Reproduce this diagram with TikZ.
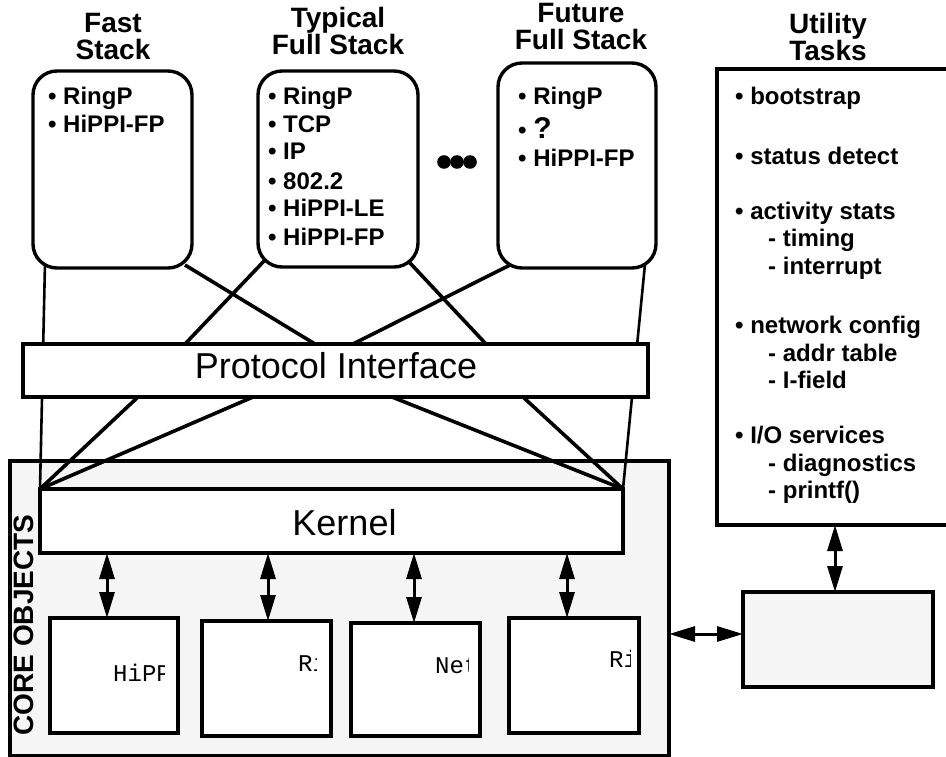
\documentclass[tikz,border=0pt]{standalone}
\usepackage{fontspec}
\setmainfont{Liberation Sans}
\newfontfamily\objfont{Liberation Mono}
\usetikzlibrary{arrows.meta,calc}
\definecolor{corefill}{RGB}{245,245,245}

\begin{document}
\begin{tikzpicture}[x=1pt,y=-1pt,
  box/.style={draw, line width=3.4pt, inner sep=0pt, outer sep=0pt, anchor=north west},
  frame/.style={minimum width=#1, inner sep=0pt, outer sep=0pt, anchor=north west},
  outline/.style={line width=3.4pt, fill=white},
  title/.style={font=\fontsize{28}{27.5}\selectfont\bfseries, align=center, anchor=north, inner sep=0pt},
  item/.style={font=\fontsize{24}{28}\selectfont\bfseries, anchor=base west, inner sep=0pt},
  bigtext/.style={font=\fontsize{36}{36}\selectfont, anchor=base, inner sep=0pt},
  objtext/.style={font=\objfont\fontsize{24}{24}\selectfont, anchor=base west, inner sep=0pt},
  link/.style={line width=3.6pt},
  thinlink/.style={line width=2.6pt},
  dbl/.style={line width=3pt, {Triangle[length=26pt,width=15pt]}-{Triangle[length=26pt,width=15pt]}}
]
\useasboundingbox (0,0) rectangle (946,757);
\clip (0,0) rectangle (946,757);

% --- core objects area ---
\node[box, fill=corefill, minimum width=659pt, minimum height=295pt] (core) at (10,461) {};
\node[font=\fontsize{28}{28}\selectfont\bfseries, rotate=90, anchor=base, inner sep=0pt] (corelabel) at (33,625) {CORE OBJECTS};

% --- protocol stacks (frames; outlines are drawn after the links) ---
\node[frame=159pt, minimum height=197pt] (fast) at (33,71) {};
\node[frame=160pt, minimum height=196pt] (typical) at (258,71) {};
\node[frame=158pt, minimum height=205pt] (future) at (498,63) {};

% interface and kernel frames
\node[frame=625pt, minimum height=53pt] (pi) at (23,344) {};
\node[frame=583pt, minimum height=64pt] (kernel) at (40,489) {};

% --- links between stacks, interface and kernel ---
\draw[thinlink] ([shift={(12,-5)}]fast.south west) -- (kernel.north west);
\draw[link] ([shift={(-7,-3)}]fast.south east) -- ([xshift=-20.5pt]pi.north);
\draw[link] ([shift={(7,-7)}]typical.south west) -- ([xshift=-150.5pt]pi.north);
\draw[link] ([shift={(-8,-4)}]typical.south east) -- ([xshift=150.5pt]pi.north);
\draw[link] ([shift={(12,-3)}]future.south west) -- ([xshift=17.5pt]pi.north);
\draw[thinlink] ([shift={(-11,-4)}]future.south east) -- (kernel.north east);
\draw[link] ([xshift=-197.5pt]pi.south) -- (kernel.north west);
\draw[link] ([xshift=-82.5pt]pi.south) -- (kernel.north west);
\draw[link] ([xshift=56.5pt]pi.south) -- (kernel.north east);
\draw[link] ([xshift=187.5pt]pi.south) -- (kernel.north east);

% stack boxes, interface and kernel drawn over the link ends
\draw[outline, rounded corners=24pt] (fast.north west) rectangle (fast.south east);
\draw[outline, rounded corners=24pt] (typical.north west) rectangle (typical.south east);
\draw[outline, rounded corners=24pt] (future.north west) rectangle (future.south east);
\draw[outline] (pi.north west) rectangle (pi.south east);
\draw[outline] (kernel.north west) rectangle (kernel.south east);
\node[bigtext] (pitext) at (336,378) {Protocol Interface};
\node[bigtext] (ktext) at (344.5,535) {Kernel};

% --- stack titles ---
\node[title] (fastT) at (113,13) {Fast\\Stack};
\node[title] (typicalT) at (338,7) {Typical\\Full Stack};
\node[title] (futureT) at (581,3) {Future\\Full Stack};
\node[title] (utilT) at (828,13) {Utility\\Tasks};

% --- stack contents ---
\node[item] (f1) at (48,105) {• RingP};
\node[item] (f2) at (48,133) {• HiPPI-FP};

\node[item] (t1) at (268,105) {• RingP};
\node[item] (t2) at (268,133) {• TCP};
\node[item] (t3) at (268,160) {• IP};
\node[item] (t4) at (268,190) {• 802.2};
\node[item] (t5) at (268,217) {• HiPPI-LE};
\node[item] (t6) at (268,245) {• HiPPI-FP};

\node[item] (u1) at (518,105) {• RingP};
\node[item] (u2) at (518,139) {• {\fontsize{30}{30}\selectfont ?}};
\node[item] (u3) at (518,167) {• HiPPI-FP};

% further stacks
\foreach \cx in {444,457,470}
  \fill (\cx,162) circle[radius=6.8pt];

% --- utility tasks ---
\draw[line width=3.4pt] (960,69) -| (717,525) -- (960,525);
\node[item] (a1) at (735,105) {• bootstrap};
\node[item] (a2) at (735,165) {• status detect};
\node[item] (a3) at (735,220) {• activity stats};
\node[item] (a3a) at (768,247) {- timing};
\node[item] (a3b) at (768,274) {- interrupt};
\node[item] (a4) at (735,333) {• network config};
\node[item] (a4a) at (768,361) {- addr table};
\node[item] (a4b) at (768,388) {- I-field};
\node[item] (a5) at (735,443) {• I/O services};
\node[item] (a5a) at (768,471) {- diagnostics};
\node[item] (a5b) at (768,498) {- printf()};
\coordinate (util) at (835,525);

% --- core objects ---
\node[box, fill=white, minimum width=128pt, minimum height=115pt] (obj1) at (50,618) {};
\node[box, fill=white, minimum width=129pt, minimum height=115pt] (obj2) at (202,621) {};
\node[box, fill=white, minimum width=129pt, minimum height=113pt] (obj3) at (351,623) {};
\node[box, fill=white, minimum width=130pt, minimum height=115pt] (obj4) at (509,618) {};

\begin{scope}
  \clip (obj1.north west) rectangle ([xshift=-14pt]obj1.south east);
  \node[objtext] (o1) at (113,681) {HiPPI};
\end{scope}
\begin{scope}
  \clip (obj2.north west) rectangle ([xshift=-15pt]obj2.south east);
  \node[objtext] (o2) at (298,671) {RingP};
\end{scope}
\begin{scope}
  \clip (obj3.north west) rectangle ([xshift=-12pt]obj3.south east);
  \node[objtext] (o3) at (435,673) {Network};
\end{scope}
\begin{scope}
  \clip (obj4.north west) rectangle ([xshift=-9pt]obj4.south east);
  \node[objtext] (o4) at (609,667) {RingP};
\end{scope}

% kernel <-> core objects
\coordinate (k1) at ([xshift=-7pt]obj1.north);
\coordinate (k2) at ([xshift=1.5pt]obj2.north);
\coordinate (k3) at ([xshift=-1.5pt]obj3.north);
\coordinate (k4) at ([xshift=-7pt]obj4.north);
\foreach \k in {k1,k2,k3,k4}
  \draw[dbl] (\k |- kernel.south) -- (\k);

% --- device box on the right ---
\node[box, fill=corefill, minimum width=190pt, minimum height=95pt] (dev) at (743,592) {};
\coordinate (devin) at ([yshift=5.5pt]dev.west);
\draw[dbl] (devin -| core.east) -- (devin);
\draw[dbl] (util) -- (util |- dev.north);

\end{tikzpicture}
\end{document}
